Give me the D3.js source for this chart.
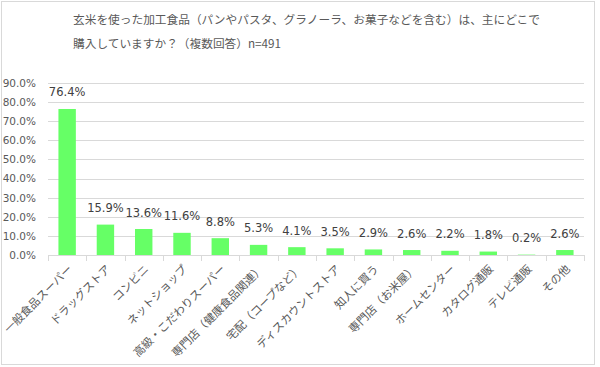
<!DOCTYPE html>
<html>
<head>
<meta charset="utf-8">
<script src="https://cdn.jsdelivr.net/npm/d3@7"></script>
<style>
  body { margin: 0; background: #fff; }
  svg { display: block; font-family: "DejaVu Sans", "Noto Sans CJK JP", sans-serif; }
</style>
</head>
<body>
<div id="chart"></div>
<script>
// purchase places for brown-rice processed food, n=491
const categories = [
    "一般食品スーパー", "ドラッグストア", "コンビニ", "ネットショップ",
    "高級・こだわりスーパー", "専門店（健康食品関連）", "宅配（コープなど）",
    "ディスカウントストア", "知人に買う", "専門店（お米屋）", "ホームセンター",
    "カタログ通販", "テレビ通販", "その他"
];
const values = [76.4, 15.9, 13.6, 11.6, 8.8, 5.3, 4.1, 3.5, 2.9, 2.6, 2.2, 1.8, 0.2, 2.6];
const yTicks = [0, 10, 20, 30, 40, 50, 60, 70, 80, 90];
const titleLines = [
    "玄米を使った加工食品（パンやパスタ、グラノーラ、お菓子などを含む）は、主にどこで",
    "購入していますか？（複数回答）n=491"
];

const W = 600, H = 367;
const plot = { left: 48, right: 584, top: 83, bottom: 255 };

const svg = d3.select("#chart").append("svg")
    .attr("width", W)
    .attr("height", H);

// outer frame
svg.append("rect")
    .attr("x", 1.5).attr("y", 1.5)
    .attr("width", 593).attr("height", 363)
    .attr("fill", "#fff")
    .attr("stroke", "#d9d9d9");

// title
svg.append("g").selectAll("text")
    .data(titleLines)
    .enter().append("text")
    .attr("x", 73)
    .attr("y", function(d, i) { return 24 + i * 24; })
    .attr("fill", "#595959")
    .style("font-family", '"Noto Sans CJK JP", sans-serif')
    .style("font-size", "11.7px")
    .text(function(d) { return d; });

const x = d3.scaleBand()
    .domain(categories)
    .range([plot.left, plot.right])
    .paddingInner(0.545)
    .paddingOuter(0.2725);

const y = d3.scaleLinear()
    .domain([0, 90])
    .range([plot.bottom, plot.top]);

// gridlines
svg.append("g").selectAll("line")
    .data(yTicks)
    .enter().append("line")
    .attr("x1", plot.left).attr("x2", plot.right)
    .attr("y1", function(d) { return Math.round(y(d)) + 0.5; })
    .attr("y2", function(d) { return Math.round(y(d)) + 0.5; })
    .attr("stroke", "#d9d9d9");

// y axis labels
const yAxis = d3.axisLeft(y)
    .tickValues(yTicks)
    .tickSize(0)
    .tickPadding(12)
    .tickFormat(function(d) { return d.toFixed(1) + "%"; });

const gy = svg.append("g")
    .attr("transform", "translate(" + plot.left + ",0)")
    .call(yAxis);
gy.select(".domain").remove();
gy.selectAll("text")
    .attr("fill", "#595959")
    .style("font-family", '"DejaVu Sans", sans-serif')
    .style("font-size", "10.5px");

// category ticks below the axis
const step = x.step();
const tickPos = d3.range(categories.length + 1).map(function(i) { return plot.left + i * step; });
svg.append("g").selectAll("line")
    .data(tickPos)
    .enter().append("line")
    .attr("x1", function(d) { return Math.round(d) + 0.5; })
    .attr("x2", function(d) { return Math.round(d) + 0.5; })
    .attr("y1", plot.bottom)
    .attr("y2", plot.bottom + 6)
    .attr("stroke", "#d9d9d9");

// bars
svg.append("g").selectAll("rect")
    .data(values)
    .enter().append("rect")
    .attr("x", function(d, i) { return x(categories[i]); })
    .attr("y", function(d) { return y(d); })
    .attr("width", x.bandwidth())
    .attr("height", function(d) { return plot.bottom - y(d); })
    .attr("fill", "#66ff66");

// value labels
svg.append("g").selectAll("text")
    .data(values)
    .enter().append("text")
    .attr("x", function(d, i) { return x(categories[i]) + x.bandwidth() / 2; })
    .attr("y", function(d) { return y(d) - 12.5; })
    .attr("text-anchor", "middle")
    .attr("fill", "#404040")
    .style("font-family", '"DejaVu Sans", sans-serif')
    .style("font-size", "11.5px")
    .text(function(d) { return d.toFixed(1) + "%"; });

// rotated category labels
svg.append("g").selectAll("text")
    .data(categories)
    .enter().append("text")
    .attr("transform", function(d) {
        return "translate(" + (x(d) + x.bandwidth() / 2 + 3) + "," + (plot.bottom + 12) + ") rotate(-45)";
    })
    .attr("text-anchor", "end")
    .attr("dy", "0.35em")
    .attr("fill", "#595959")
    .style("font-family", '"Noto Sans CJK JP", sans-serif')
    .style("font-size", "11.3px")
    .text(function(d) { return d; });
</script>
</body>
</html>
